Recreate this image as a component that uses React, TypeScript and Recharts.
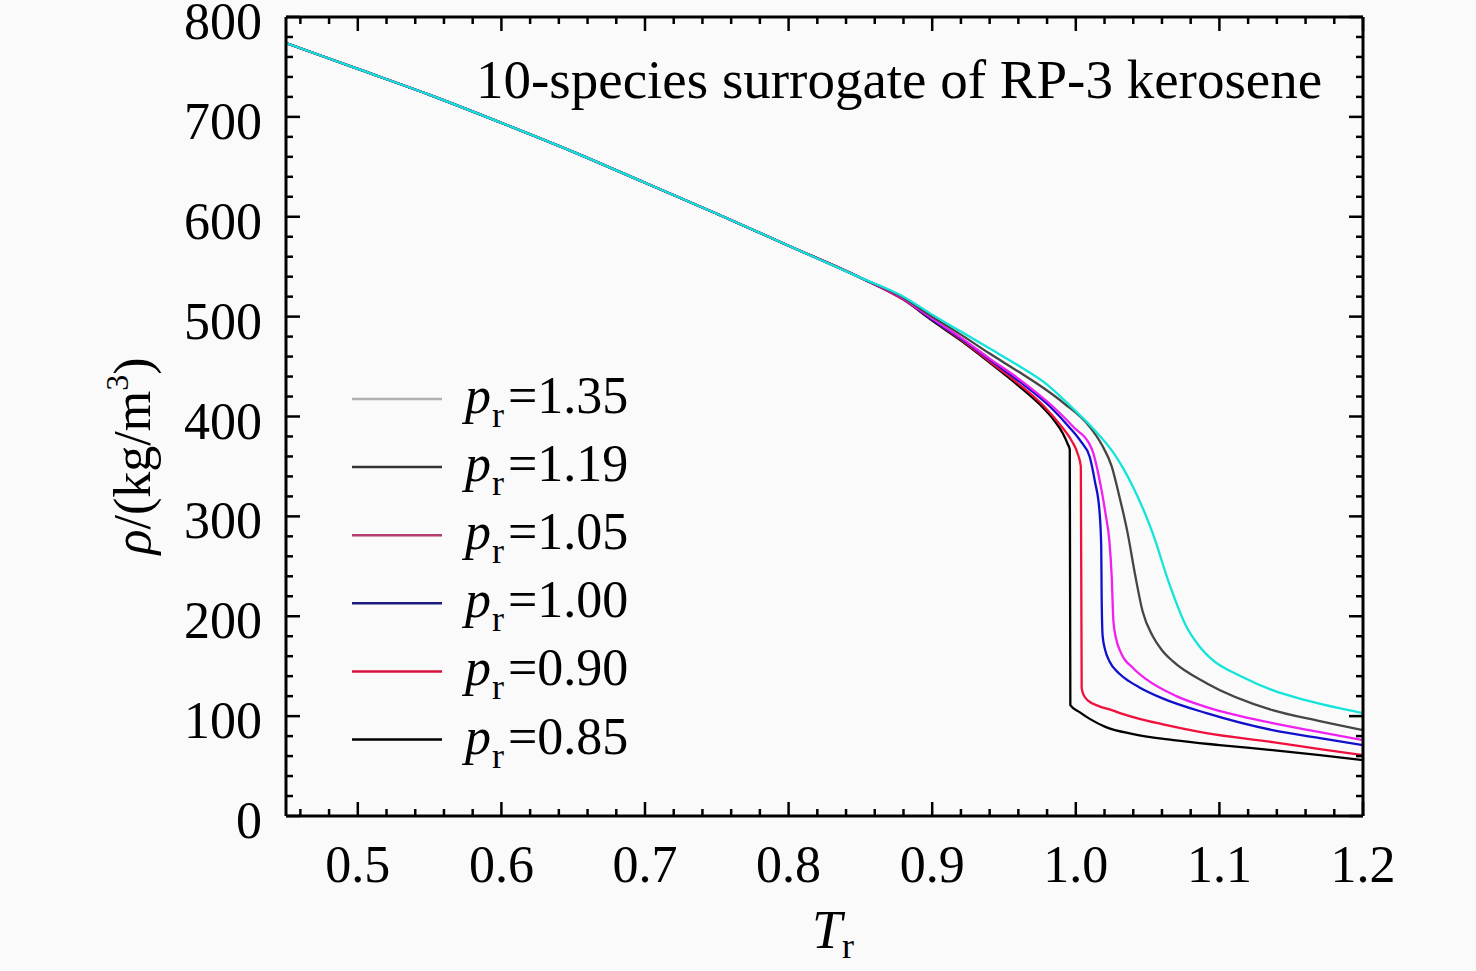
import { LineChart, Line, XAxis, YAxis } from "recharts"

const SERIF = '"Liberation Serif", "Times New Roman", serif'

// all pressures share the same compressed-liquid branch up to Tr ~ 0.85
const liquid: [number, number][] = [
  [0.45, 774], [0.5, 748], [0.55, 722], [0.6, 694], [0.65, 665],
  [0.7, 634], [0.75, 603], [0.8, 571], [0.85, 539],
]

const pr085: [number, number][] = [
  [0.88, 517], [0.9, 496], [0.92, 476], [0.94, 454], [0.96, 431], [0.975, 412],
  [0.985, 396], [0.991, 383], [0.9945, 372], [0.9958, 367], [0.9962, 111], [1.0026, 104],
  [1.01, 97], [1.021, 89], [1.04, 82], [1.068, 76], [1.1, 71], [1.137, 66], [1.17, 61], [1.2, 56],
]
const pr090: [number, number][] = [
  [0.88, 517], [0.9, 497], [0.92, 477], [0.94, 455], [0.96, 433], [0.978, 410],
  [0.99, 390], [0.997, 376], [1.0015, 362], [1.0035, 350], [1.0041, 128], [1.0055, 121],
  [1.009, 115], [1.016, 110], [1.025, 106], [1.033, 102], [1.045, 97], [1.06, 92],
  [1.091, 83], [1.137, 74], [1.17, 67], [1.2, 61],
]
const pr100: [number, number][] = [
  [0.88, 518], [0.9, 497], [0.92, 478], [0.94, 457], [0.96, 436], [0.982, 410],
  [0.995, 390], [1.0035, 375], [1.0096, 360], [1.0133, 335], [1.0165, 305], [1.0177, 270],
  [1.018, 220], [1.0187, 180], [1.0205, 166], [1.0234, 155], [1.03, 143], [1.037, 135],
  [1.044, 129], [1.06, 118], [1.091, 103], [1.137, 86], [1.17, 78], [1.2, 71],
]
const pr105: [number, number][] = [
  [0.88, 518], [0.9, 498], [0.92, 479], [0.94, 458], [0.96, 438], [0.984, 410],
  [0.998, 390], [1.011, 368], [1.0177, 328], [1.021, 300], [1.0234, 275], [1.025, 240],
  [1.0262, 195], [1.028, 178], [1.0316, 163], [1.04, 148], [1.049, 137], [1.07, 120],
  [1.091, 109], [1.137, 93], [1.17, 84], [1.2, 76],
]
const pr119: [number, number][] = [
  [0.88, 519], [0.9, 500], [0.92, 482], [0.94, 463], [0.96, 445], [0.978, 428],
  [0.992, 413], [1.0095, 390], [1.018, 372], [1.025, 350], [1.03, 322], [1.036, 284],
  [1.0415, 240], [1.0465, 205], [1.0536, 180], [1.06, 166], [1.0675, 155], [1.091, 133],
  [1.137, 106], [1.17, 95], [1.2, 86],
]
const pr135: [number, number][] = [
  [0.88, 520], [0.9, 502], [0.92, 485], [0.94, 468], [0.96, 451], [0.98, 432],
  [0.998, 408], [1.012, 388], [1.027, 362], [1.033, 348], [1.0397, 330], [1.0536, 283],
  [1.065, 233], [1.0769, 190], [1.086, 170], [1.0954, 156], [1.115, 140], [1.137, 126],
  [1.16, 116], [1.2, 103],
]

const prLabels = ["1.35", "1.19", "1.05", "1.00", "0.90", "0.85"]
const prTails = [pr135, pr119, pr105, pr100, pr090, pr085]
const lineColors = ["#12e4da", "#454545", "#f020f0", "#1010cc", "#f0103c", "#000000"]
const legendColors = ["#b0b0b0", "#333333", "#b43c70", "#1a1a80", "#d8103c", "#000000"]

const xMajor = [0.5, 0.6, 0.7, 0.8, 0.9, 1.0, 1.1, 1.2]
const yMajor = [0, 100, 200, 300, 400, 500, 600, 700, 800]

const xTicks: number[] = []
for (let i = 0; i <= 37; i++) xTicks.push(+(0.46 + i * 0.02).toFixed(2))
const yTicks: number[] = []
for (let i = 0; i <= 40; i++) yTicks.push(i * 20)

const isMajorX = (v: number) => xMajor.some((m) => Math.abs(m - v) < 1e-6)
const isMajorY = (v: number) => yMajor.includes(v)

const series = prLabels.map((label, i) => ({
  label,
  color: lineColors[i],
  data: [...liquid, ...prTails[i]].map(([T, rho]) => ({ T, rho })),
}))

const MAJ = 14
const MIN = 7

function BottomTick({ x, y, payload }: any) {
  const major = isMajorX(payload.value)
  return (
    <g>
      <line x1={x} x2={x} y1={y} y2={y - (major ? MAJ : MIN)} stroke="#000" strokeWidth={2.5} />
      {major && (
        <text x={x} y={y + 66} textAnchor="middle" fontFamily={SERIF} fontSize={52} fill="#000">
          {payload.value.toFixed(1)}
        </text>
      )}
    </g>
  )
}

function TopTick({ x, y, payload }: any) {
  const major = isMajorX(payload.value)
  return <line x1={x} x2={x} y1={y} y2={y + (major ? MAJ : MIN)} stroke="#000" strokeWidth={2.5} />
}

function LeftTick({ x, y, payload }: any) {
  const major = isMajorY(payload.value)
  return (
    <g>
      <line x1={x} x2={x + (major ? MAJ : MIN)} y1={y} y2={y} stroke="#000" strokeWidth={2.5} />
      {major && (
        <text x={x - 24} y={y + 22} textAnchor="end" fontFamily={SERIF} fontSize={52} fill="#000">
          {payload.value}
        </text>
      )}
    </g>
  )
}

function RightTick({ x, y, payload }: any) {
  const major = isMajorY(payload.value)
  return <line x1={x} x2={x - (major ? MAJ : MIN)} y1={y} y2={y} stroke="#000" strokeWidth={2.5} />
}

const frame = { stroke: "#000", strokeWidth: 3 }

export default function App() {
  return (
    <div style={{ position: "absolute", left: 0, top: 0, width: 1476, height: 971, background: "#fafafa" }}>
      <LineChart width={1476} height={971} margin={{ top: 7, right: 53, bottom: 95, left: 226 }}>
        <XAxis xAxisId="b" type="number" dataKey="T" domain={[0.45, 1.2]} allowDataOverflow
          ticks={xTicks} interval={0} tick={BottomTick} tickSize={0} tickMargin={0} tickLine={false}
          axisLine={frame} height={60} />
        <XAxis xAxisId="t" orientation="top" type="number" dataKey="T" domain={[0.45, 1.2]} allowDataOverflow
          ticks={xTicks} interval={0} tick={TopTick} tickSize={0} tickMargin={0} tickLine={false}
          axisLine={frame} height={10} />
        <YAxis yAxisId="l" type="number" domain={[0, 800]} allowDataOverflow
          ticks={yTicks} interval={0} tick={LeftTick} tickSize={0} tickMargin={0} tickLine={false}
          axisLine={frame} width={60} />
        <YAxis yAxisId="r" orientation="right" type="number" domain={[0, 800]} allowDataOverflow
          ticks={yTicks} interval={0} tick={RightTick} tickSize={0} tickMargin={0} tickLine={false}
          axisLine={frame} width={60} />
        {[...series].reverse().map((s) => (
          <Line key={s.label} xAxisId="b" yAxisId="l" data={s.data} dataKey="rho" type="monotoneX"
            stroke={s.color} strokeWidth={2.3} dot={false} activeDot={false} isAnimationActive={false} />
        ))}
      </LineChart>
      <svg width={1476} height={971} style={{ position: "absolute", left: 0, top: 0, pointerEvents: "none" }}
        fontFamily={SERIF} fill="#000">
        <text x={476} y={98} fontSize={55}>10-species surrogate of RP-3 kerosene</text>
        {series.map((s, i) => {
          const y = 399 + i * 68.1
          return (
            <g key={s.label}>
              <line x1={352} x2={442} y1={y} y2={y} stroke={legendColors[i]} strokeWidth={2.5} />
              <text x={465} y={y + 14} fontSize={52}>
                <tspan fontStyle="italic">p</tspan>
                <tspan fontSize={36} dx={1} dy={14}>r</tspan>
                <tspan dx={4} dy={-14}>={s.label}</tspan>
              </text>
            </g>
          )
        })}
        <text transform="translate(150,456) rotate(-90)" textAnchor="middle" fontSize={52}>
          <tspan fontStyle="italic">ρ</tspan>
          <tspan>/(kg/m</tspan>
          <tspan fontSize={32} dy={-22}>3</tspan>
          <tspan dy={22}>)</tspan>
        </text>
        <text x={833} y={948} textAnchor="middle" fontSize={54}>
          <tspan fontStyle="italic">T</tspan>
          <tspan fontSize={36} dy={10}>r</tspan>
        </text>
      </svg>
    </div>
  )
}
